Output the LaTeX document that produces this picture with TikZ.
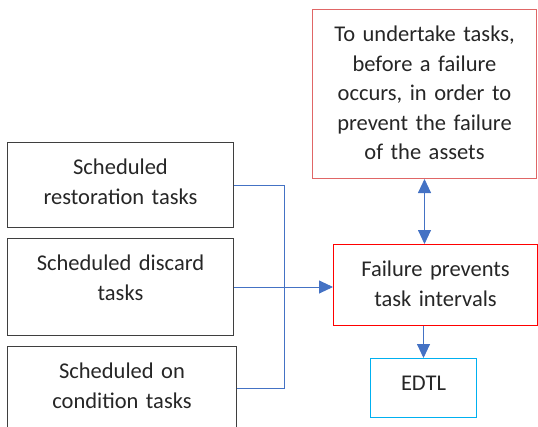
\documentclass[tikz,border=0pt]{standalone}
\usepackage{fontspec}
\setmainfont{Carlito}
\usetikzlibrary{arrows.meta,positioning}

\definecolor{linkblue}{HTML}{4472C4}
\definecolor{boxred}{HTML}{FF0000}
\definecolor{softred}{HTML}{E06666}
\definecolor{edtlcyan}{HTML}{00B0F0}
\definecolor{boxgray}{HTML}{3F3F3F}
\definecolor{inkgray}{HTML}{262626}

\begin{document}
\begin{tikzpicture}[x=1pt,y=-1pt,>={Triangle[length=14pt,width=13pt]},
		task node/.style={draw=boxgray,line width=1pt,rectangle,inner xsep=3pt,inner ysep=0pt,
			align=center,font=\fontsize{22.5}{29.5}\selectfont,text=inkgray,text height=32pt,anchor=north west},
		link/.style={draw=linkblue,line width=0.9pt}]
		\useasboundingbox (0,0) rectangle (538,426);
		
		% scheduled tasks
		\node[task node,text width=220pt,text depth=53pt] (b1) at (7,142) {Scheduled\\restoration tasks};
		\node[task node,text width=220pt,text depth=65pt,below=10pt of b1.south west,anchor=north west] (b2) {Scheduled discard\\tasks};
		\node[task node,text width=223pt,text depth=52pt,below=10pt of b2.south west,anchor=north west] (b3) {Scheduled on\\condition tasks};
		
		% preventive side
		\node[task node,draw=softred,text width=218pt,text depth=137pt] (goal) at (312,9) {To undertake tasks,\\before a failure\\occurs, in order to\\prevent the failure\\of the assets};
		\node[task node,draw=boxred,text width=198pt,text depth=49pt] (fail) at (333,244) {Failure prevents\\task intervals};
		\node[task node,draw=edtlcyan,text width=100pt,text depth=27pt] (edtl) at (370,358) {EDTL};
		
		% connectors
		\coordinate (joint) at (b2.east -| 284,0);
		\draw[link] (b1.east) -| (joint);
		\draw[link] (b2.east) -- (joint);
		\draw[link] (b3.east) -| (joint);
		\draw[link,->] (joint) -- (joint -| fail.west);
		\draw[link,<->] (goal.south) -- (goal.south |- fail.north);
		\draw[link,->] (fail.south -| edtl.north) -- (edtl.north);
\end{tikzpicture}
\end{document}
